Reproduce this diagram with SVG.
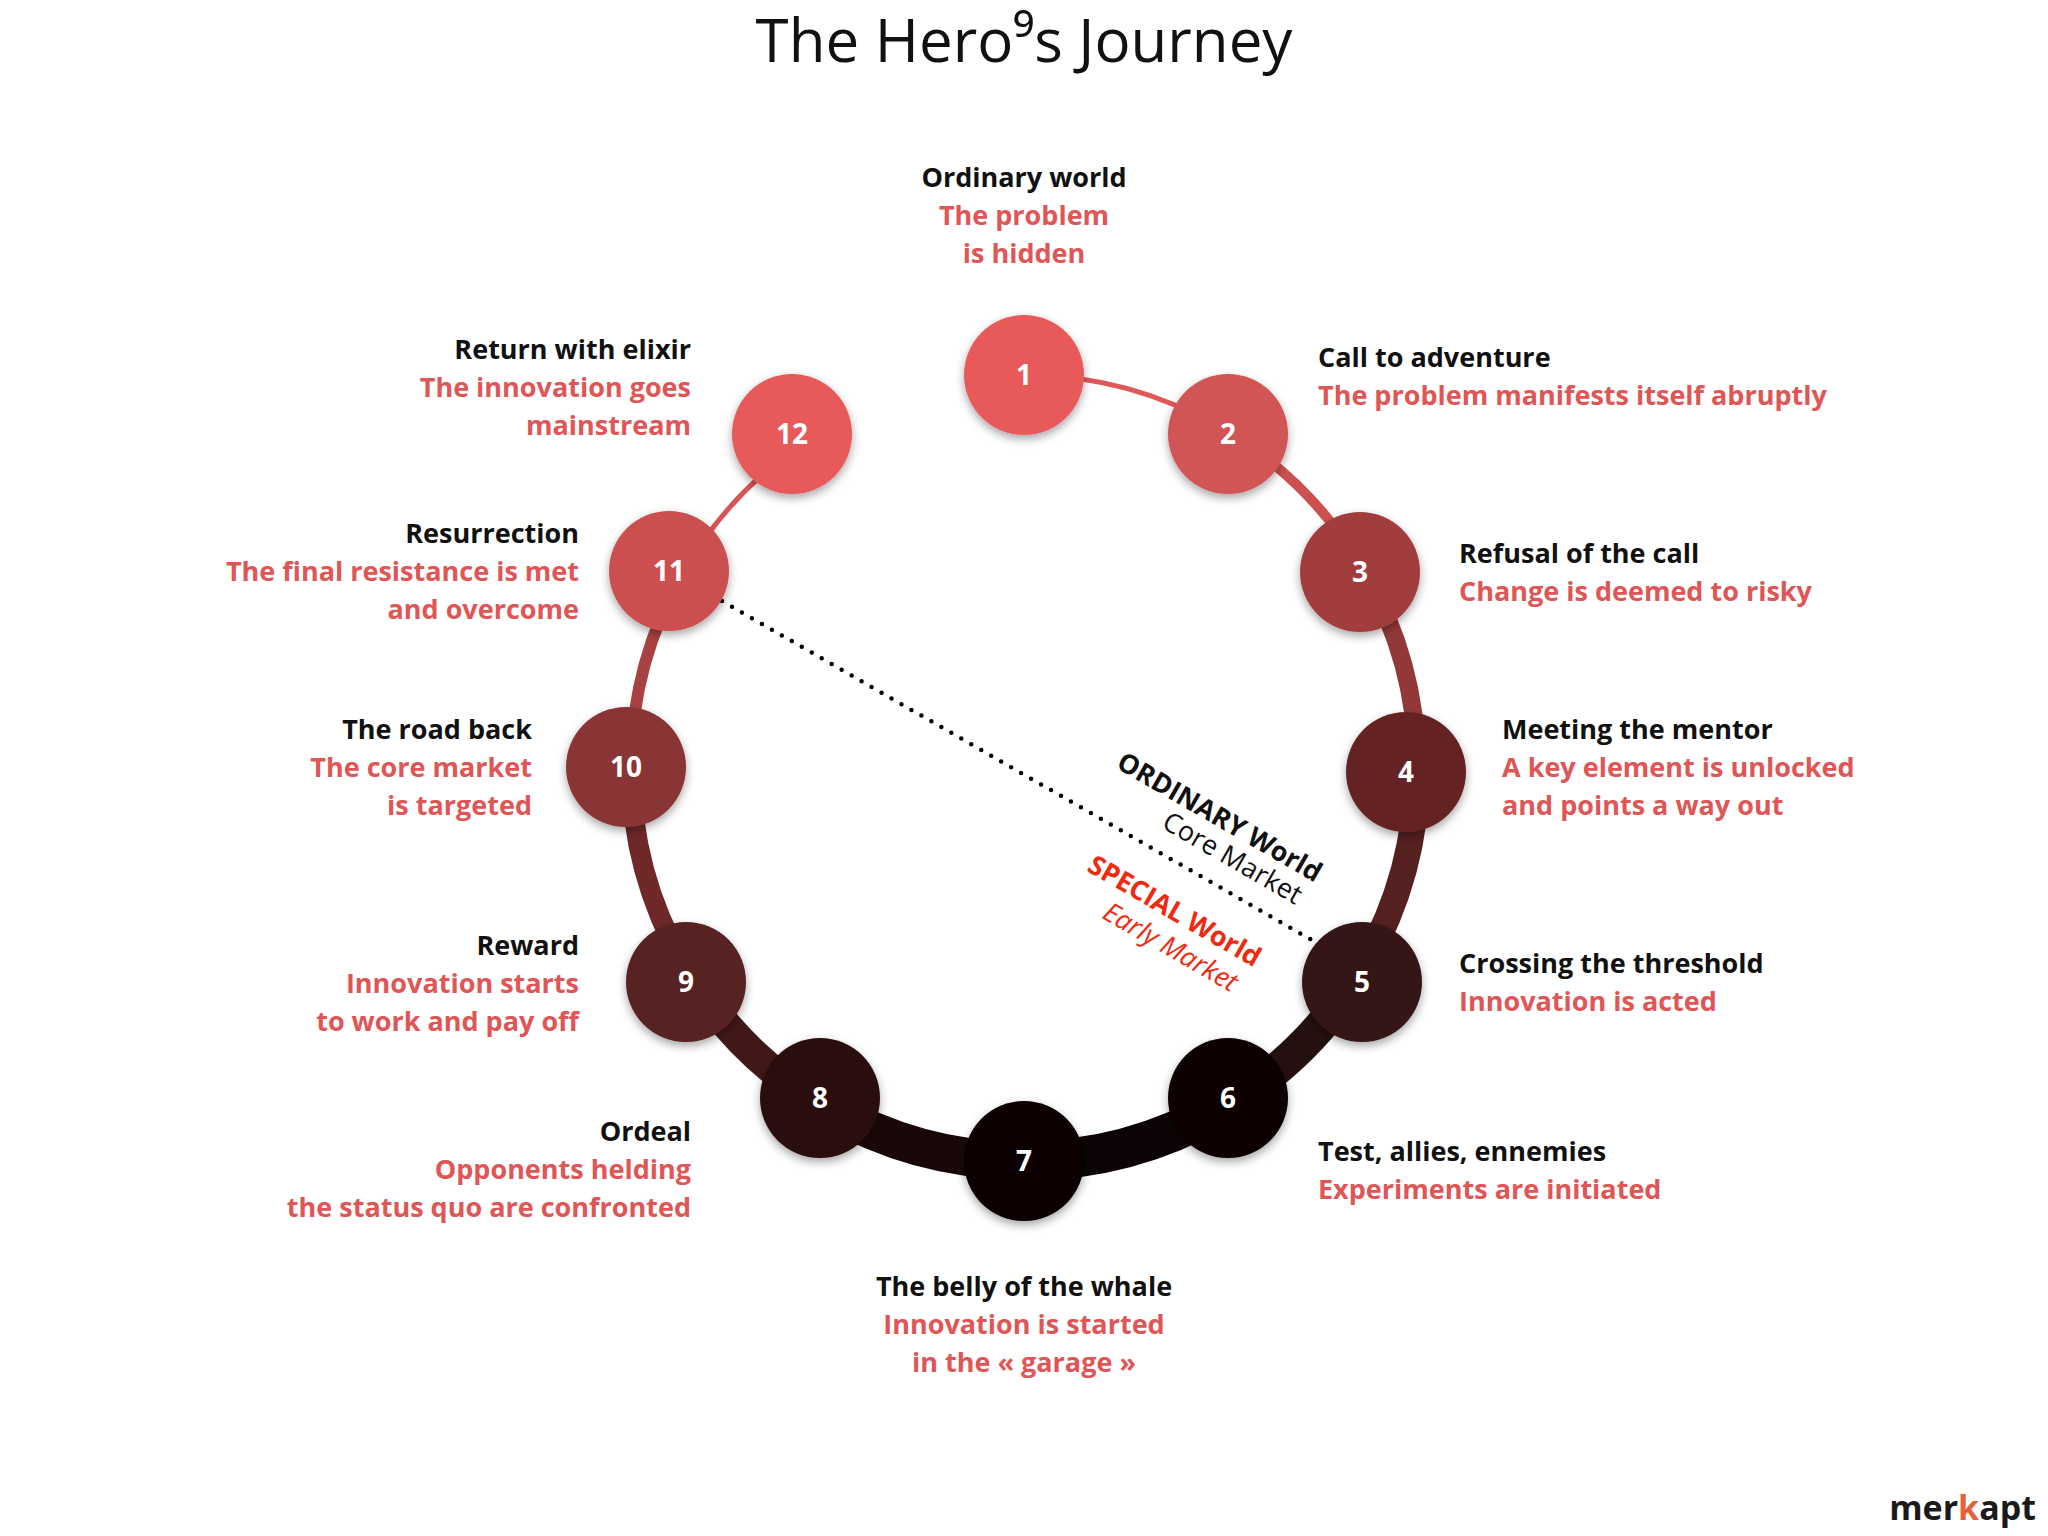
<svg xmlns="http://www.w3.org/2000/svg" width="2048" height="1536" viewBox="0 0 2048 1536">
<defs>
<filter id="sh" x="-30%" y="-30%" width="160%" height="160%"><feDropShadow dx="0" dy="4" stdDeviation="5" flood-color="#000" flood-opacity="0.35"/></filter>
</defs>
<style>
text{font-family:"Open Sans","Noto Sans",sans-serif}
.t{font-size:60px;fill:#111}
.h{font-size:27px;font-weight:700;fill:#111}
.d{font-size:27px;font-weight:700;fill:#e05555}
.n{font-size:28px;font-weight:700;fill:#fff;text-anchor:middle}
.arc{fill:none;stroke-linecap:butt}
.w{font-size:27px;text-anchor:middle}
</style>
<rect width="2048" height="1536" fill="#fff"/>
<text class="t" x="1024" y="62" text-anchor="middle">The Hero⁹s Journey</text>
<g id="connectors">
<path class="arc" d="M1024 375 A393 393 0 0 1 1220.5 427.7" stroke="#e05858" stroke-width="5"/>
<path class="arc" d="M1220.5 427.7 A393 393 0 0 1 1364.3 571.5" stroke="#cc5050" stroke-width="10"/>
<path class="arc" d="M1364.3 571.5 A393 393 0 0 1 1417 768" stroke="#923838" stroke-width="18"/>
<path class="arc" d="M1417 768 A393 393 0 0 1 1364.3 964.5" stroke="#552020" stroke-width="26"/>
<path class="arc" d="M1364.3 964.5 A393 393 0 0 1 1220.5 1108.3" stroke="#251010" stroke-width="33"/>
<path class="arc" d="M1220.5 1108.3 A393 393 0 0 1 1024 1161" stroke="#0c0404" stroke-width="40"/>
<path class="arc" d="M1024 1161 A393 393 0 0 1 827.5 1108.3" stroke="#1a0808" stroke-width="38"/>
<path class="arc" d="M827.5 1108.3 A393 393 0 0 1 683.7 964.5" stroke="#421818" stroke-width="30"/>
<path class="arc" d="M683.7 964.5 A393 393 0 0 1 631 768" stroke="#6e2828" stroke-width="20"/>
<path class="arc" d="M631 768 A393 393 0 0 1 683.7 571.5" stroke="#a84242" stroke-width="12"/>
<path class="arc" d="M683.7 571.5 A393 393 0 0 1 827.5 427.7" stroke="#d85555" stroke-width="5"/>
<line x1="722" y1="601" x2="1317" y2="943" stroke="#000" stroke-width="4.5" stroke-linecap="round" stroke-dasharray="0 11.5"/>
</g>
<g id="divider-labels">
<text class="w" transform="translate(1215 825) rotate(30)" font-weight="700" fill="#111">ORDINARY World</text>
<text class="w" transform="translate(1228 866) rotate(30)" fill="#111">Core Market</text>
<text class="w" transform="translate(1170 919) rotate(30)" font-weight="700" fill="#ee2a10">SPECIAL World</text>
<text class="w" transform="translate(1166 955) rotate(30)" font-style="italic" fill="#ee2a10">Early Market</text>
</g>
<g id="node1"><circle cx="1024" cy="375" r="60" fill="#e85a5a" filter="url(#sh)"/><text class="n" x="1024" y="385">1</text>
<text class="h" x="1024" y="187" text-anchor="middle">Ordinary world</text><text class="d" x="1024" y="225" text-anchor="middle">The problem</text><text class="d" x="1024" y="263" text-anchor="middle">is hidden</text></g>
<g id="node2"><circle cx="1228" cy="434" r="60" fill="#d25454" filter="url(#sh)"/><text class="n" x="1228" y="444">2</text>
<text class="h" x="1318" y="367">Call to adventure</text><text class="d" x="1318" y="405">The problem manifests itself abruptly</text></g>
<g id="node3"><circle cx="1360" cy="572" r="60" fill="#a23e3e" filter="url(#sh)"/><text class="n" x="1360" y="582">3</text>
<text class="h" x="1459" y="563">Refusal of the call</text><text class="d" x="1459" y="601">Change is deemed to risky</text></g>
<g id="node4"><circle cx="1406" cy="772" r="60" fill="#652424" filter="url(#sh)"/><text class="n" x="1406" y="782">4</text>
<text class="h" x="1502" y="739">Meeting the mentor</text><text class="d" x="1502" y="777">A key element is unlocked</text><text class="d" x="1502" y="815">and points a way out</text></g>
<g id="node5"><circle cx="1362" cy="982" r="60" fill="#361414" filter="url(#sh)"/><text class="n" x="1362" y="992">5</text>
<text class="h" x="1459" y="973">Crossing the threshold</text><text class="d" x="1459" y="1011">Innovation is acted</text></g>
<g id="node6"><circle cx="1228" cy="1098" r="60" fill="#0c0404" filter="url(#sh)"/><text class="n" x="1228" y="1108">6</text>
<text class="h" x="1318" y="1161">Test, allies, ennemies</text><text class="d" x="1318" y="1199">Experiments are initiated</text></g>
<g id="node7"><circle cx="1024" cy="1161" r="60" fill="#070202" filter="url(#sh)"/><text class="n" x="1024" y="1171">7</text>
<text class="h" x="1024" y="1296" text-anchor="middle">The belly of the whale</text><text class="d" x="1024" y="1334" text-anchor="middle">Innovation is started</text><text class="d" x="1024" y="1372" text-anchor="middle">in the « garage »</text></g>
<g id="node8"><circle cx="820" cy="1098" r="60" fill="#2a0f0f" filter="url(#sh)"/><text class="n" x="820" y="1108">8</text>
<text class="h" x="691" y="1141" text-anchor="end">Ordeal</text><text class="d" x="691" y="1179" text-anchor="end">Opponents helding</text><text class="d" x="691" y="1217" text-anchor="end">the status quo are confronted</text></g>
<g id="node9"><circle cx="686" cy="982" r="60" fill="#562020" filter="url(#sh)"/><text class="n" x="686" y="992">9</text>
<text class="h" x="579" y="955" text-anchor="end">Reward</text><text class="d" x="579" y="993" text-anchor="end">Innovation starts</text><text class="d" x="579" y="1031" text-anchor="end">to work and pay off</text></g>
<g id="node10"><circle cx="626" cy="767" r="60" fill="#893434" filter="url(#sh)"/><text class="n" x="626" y="777">10</text>
<text class="h" x="532" y="739" text-anchor="end">The road back</text><text class="d" x="532" y="777" text-anchor="end">The core market</text><text class="d" x="532" y="815" text-anchor="end">is targeted</text></g>
<g id="node11"><circle cx="669" cy="571" r="60" fill="#cc5050" filter="url(#sh)"/><text class="n" x="669" y="581">11</text>
<text class="h" x="579" y="543" text-anchor="end">Resurrection</text><text class="d" x="579" y="581" text-anchor="end">The final resistance is met</text><text class="d" x="579" y="619" text-anchor="end">and overcome</text></g>
<g id="node12"><circle cx="792" cy="434" r="60" fill="#e85a5a" filter="url(#sh)"/><text class="n" x="792" y="444">12</text>
<text class="h" x="691" y="359" text-anchor="end">Return with elixir</text><text class="d" x="691" y="397" text-anchor="end">The innovation goes</text><text class="d" x="691" y="435" text-anchor="end">mainstream</text></g>
<text x="2036" y="1520" text-anchor="end" font-size="34" font-weight="700" fill="#1a1a1a">mer<tspan fill="#e8603a">k</tspan>apt</text>
</svg>
